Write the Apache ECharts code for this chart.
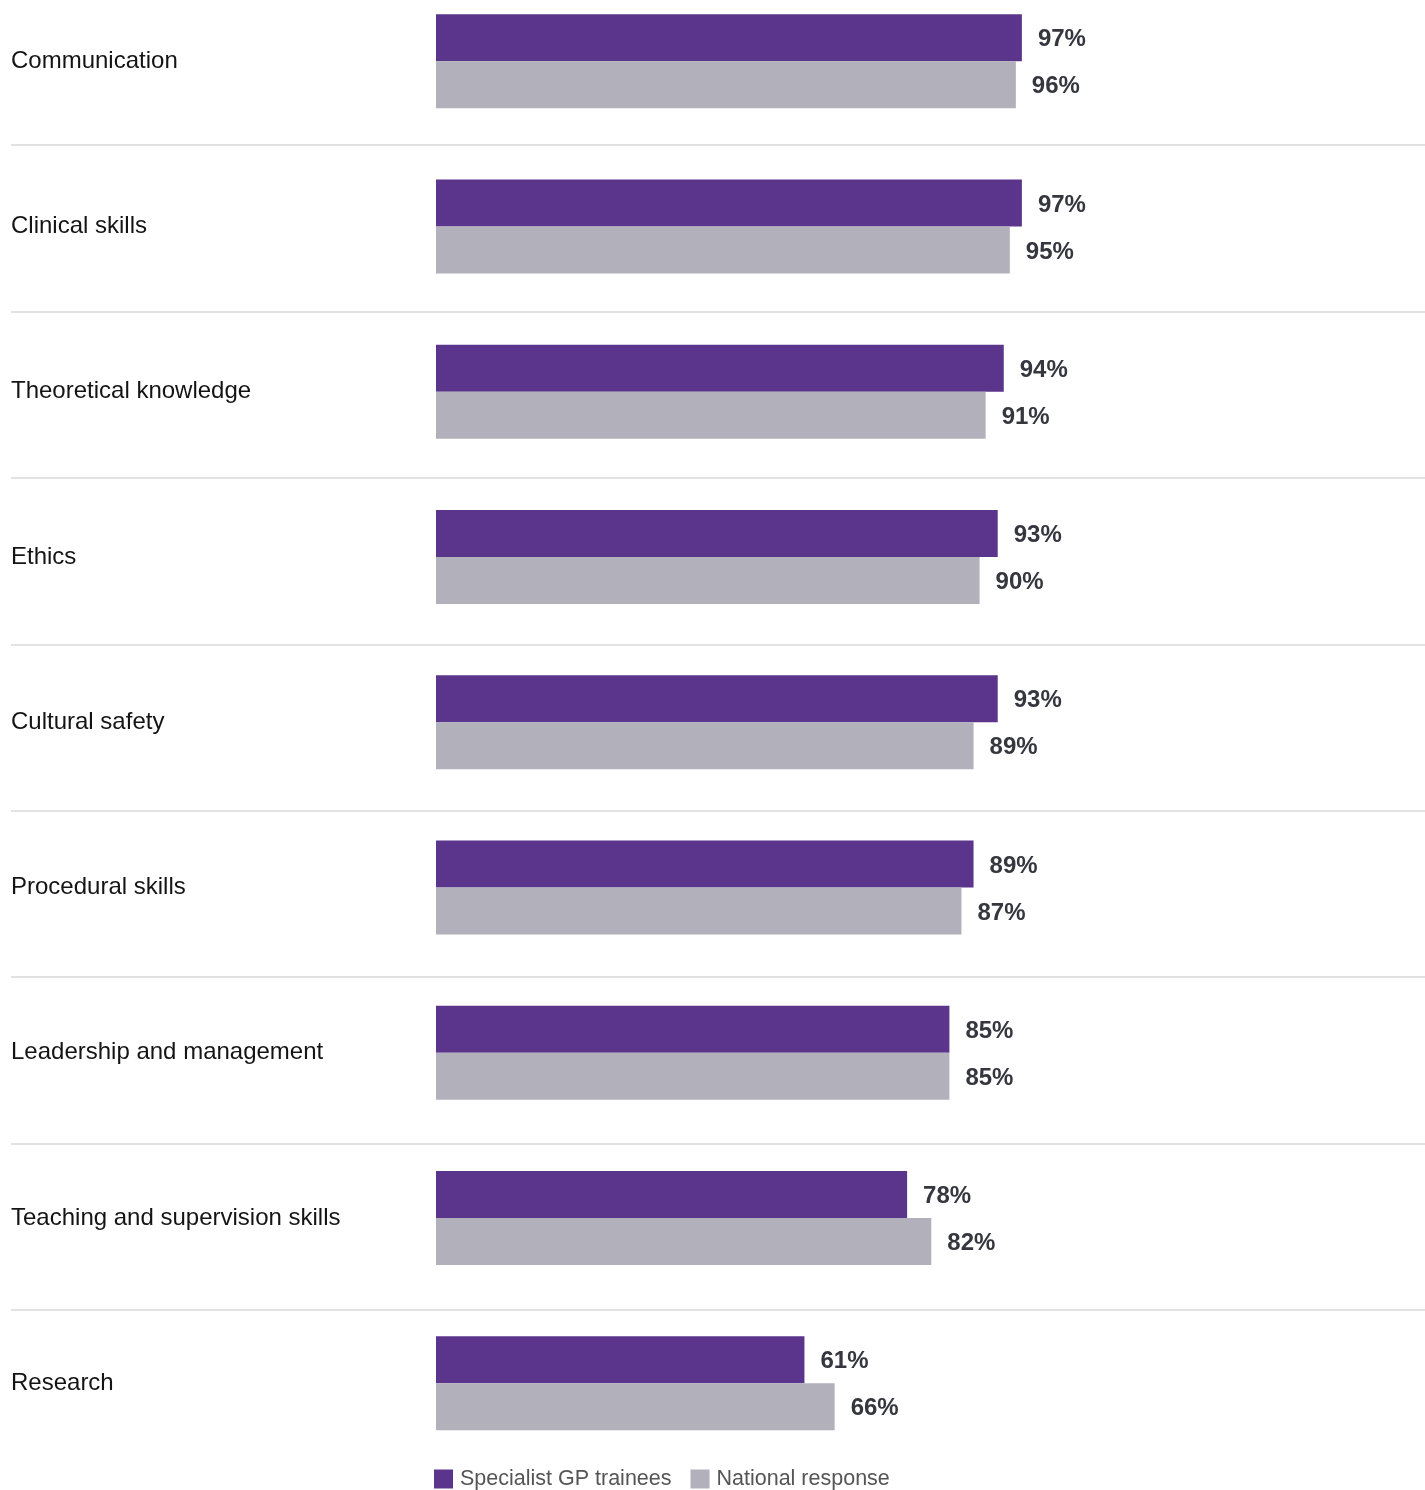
<!DOCTYPE html>
<html>
<head>
<meta charset="utf-8">
<script src="https://cdn.jsdelivr.net/npm/echarts@6/dist/echarts.min.js"></script>
<style>
html,body{margin:0;padding:0;background:#fff;}
#chart{width:1425px;height:1490px;}
</style>
</head>
<body>
<div id="chart"></div>
<script>
const categories = [
  "Communication",
  "Clinical skills",
  "Theoretical knowledge",
  "Ethics",
  "Cultural safety",
  "Procedural skills",
  "Leadership and management",
  "Teaching and supervision skills",
  "Research"
];
const seriesNames = ["Specialist GP trainees", "National response"];
const gpTrainees = [97, 97, 94, 93, 93, 89, 85, 78, 61];
const nationalResponse = [96, 95, 91, 90, 89, 87, 85, 82, 66];
const colors = ["#5a358b", "#b1b0bb"];
const FONT = "'Liberation Sans', Arial, Helvetica, sans-serif";

const chart = echarts.init(document.getElementById('chart'), null, {renderer: 'canvas'});
const labelCfg = {
  show: true,
  position: 'right',
  distance: 16,
  offset: [0, 2],
  formatter: '{c}%',
  fontFamily: FONT,
  fontSize: 24,
  fontWeight: 'bold',
  color: '#36363f'
};
chart.setOption({
  animation: false,
  backgroundColor: '#fff',
  legend: {
    data: seriesNames,
    left: 434,
    top: 1468,
    padding: 0,
    icon: 'rect',
    itemWidth: 19,
    itemHeight: 19,
    itemGap: 19,
    textStyle: {fontFamily: FONT, fontSize: 21.5, color: '#555', padding: [2, 0, 0, 2]}
  },
  grid: [
    {left: 436, width: 604, top: 61.2, height: 1322, containLabel: false},
    {left: 11, right: 0, top: 145, height: 1165, containLabel: false}
  ],
  xAxis: [
    {type: 'value', gridIndex: 0, min: 0, max: 100, show: false},
    {type: 'value', gridIndex: 1, min: 0, max: 100, show: false}
  ],
  yAxis: [
    {
      type: 'category', gridIndex: 0, data: categories, inverse: true,
      boundaryGap: false,
      axisLine: {show: false}, axisTick: {show: false}, splitLine: {show: false},
      axisLabel: {margin: 425, align: 'left', fontFamily: FONT, fontSize: 24, color: '#141414', padding: [4, 0, 0, 0]}
    },
    {
      type: 'category', gridIndex: 1, data: categories.slice(1), inverse: true,
      boundaryGap: false,
      axisLine: {show: false}, axisTick: {show: false}, axisLabel: {show: false},
      splitLine: {show: true, interval: 0, lineStyle: {color: '#e2e2e2', width: 2}}
    }
  ],
  series: [
    {
      name: seriesNames[0], type: 'bar', xAxisIndex: 0, yAxisIndex: 0,
      data: gpTrainees, barWidth: 47, barGap: '0%', clip: false,
      itemStyle: {color: colors[0]}, label: labelCfg
    },
    {
      name: seriesNames[1], type: 'bar', xAxisIndex: 0, yAxisIndex: 0,
      data: nationalResponse, barWidth: 47, barGap: '0%', clip: false,
      itemStyle: {color: colors[1]}, label: labelCfg
    }
  ]
});
</script>
</body>
</html>
